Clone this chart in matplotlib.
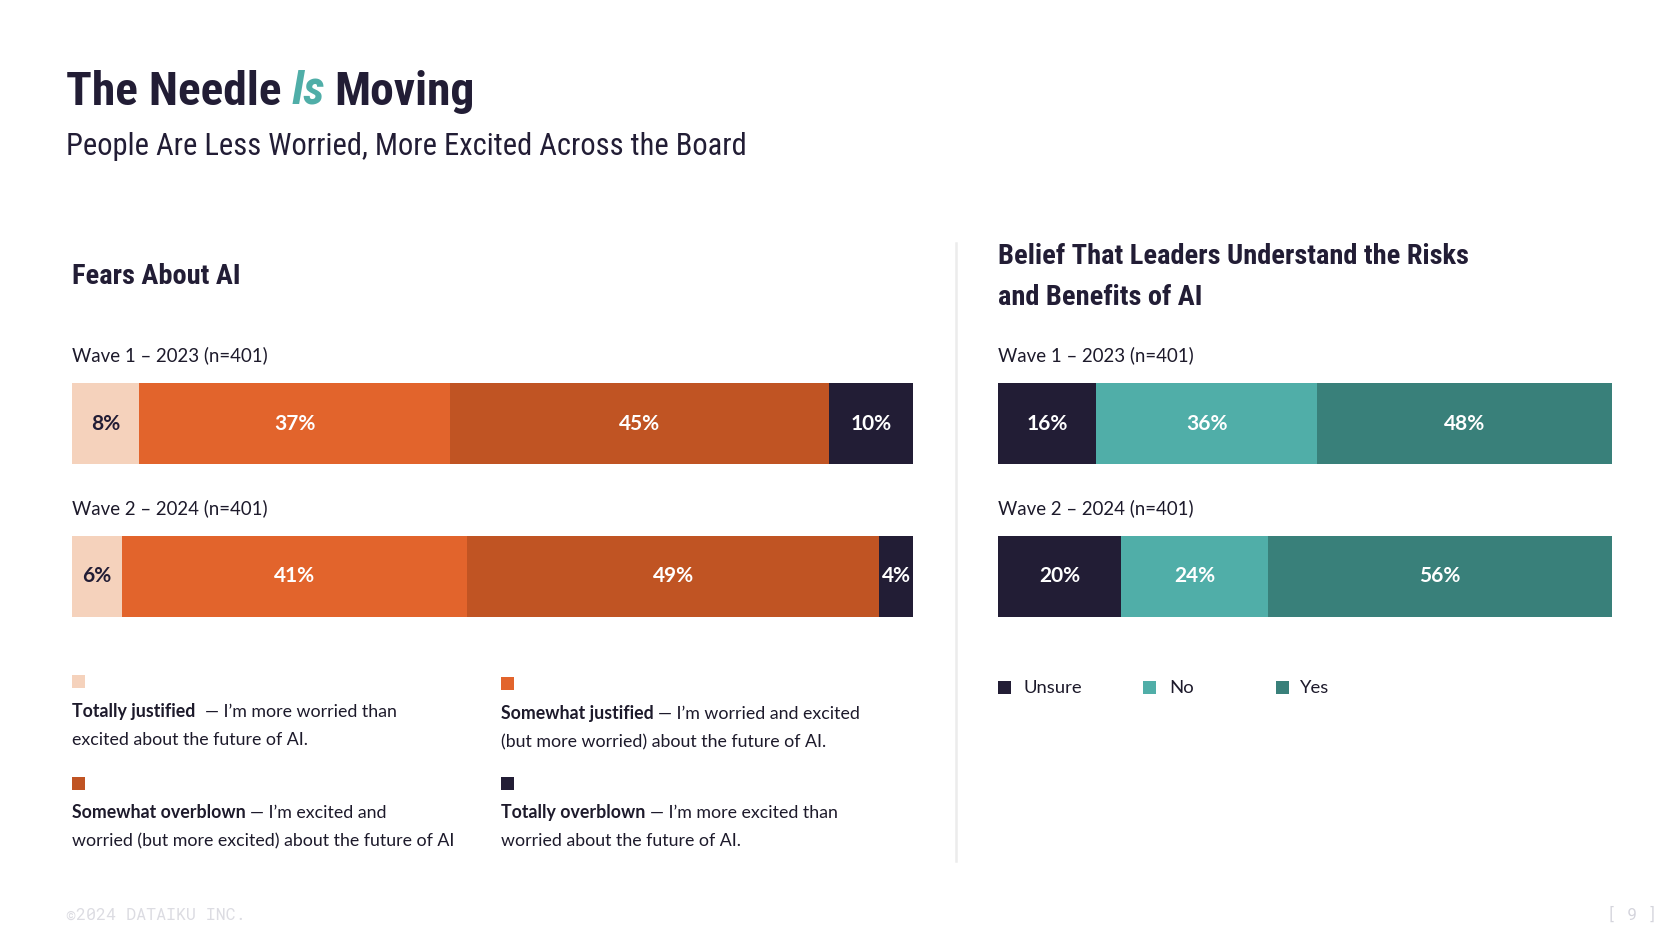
import matplotlib
matplotlib.use("Agg")
import matplotlib.pyplot as plt
from matplotlib import font_manager as fm
from matplotlib.patches import Rectangle

# ---- data ----
fear_cats = ["Totally justified", "Somewhat justified", "Somewhat overblown", "Totally overblown"]
fear_desc = [
    ("\u2014 I\u2019m more worried than", "excited about the future of AI."),
    ("\u2014 I\u2019m worried and excited", "(but more worried) about the future of AI."),
    ("\u2014 I\u2019m excited and", "worried (but more excited) about the future of AI"),
    ("\u2014 I\u2019m more excited than", "worried about the future of AI."),
]
waves = ["Wave 1 \u2013 2023 (n=401)", "Wave 2 \u2013 2024 (n=401)"]
fear_w1 = [8, 37, 45, 10]
fear_w2 = [6, 41, 49, 4]

belief_cats = ["Unsure", "No", "Yes"]
belief_w1 = [16, 36, 48]
belief_w2 = [20, 24, 56]

# ---- style ----
NAVY = "#221d35"
fear_colors = ["#f5d2bc", "#e2642c", "#c05423", NAVY]
fear_text = [NAVY, "white", "white", "white"]
belief_colors = [NAVY, "#50aea8", "#39807a"]
TXT = "#1d1a2b"

avail = {f.name for f in fm.fontManager.ttflist}


def pick(*names):
    for n in names:
        if n in avail:
            return n
    return "DejaVu Sans"


def wnum(w):
    return w if isinstance(w, (int, float)) else fm.weight_dict.get(w, 400)


def static_file(f):
    fn = f.fname
    return not any(s in fn for s in ("VF", "Variable", "[", "wght"))


def body_font(weight, size):
    # concrete static file; variable Source Sans defaults to its thin master
    for name in ("Source Sans 3", "Source Sans Pro", "Lato"):
        c = [f for f in fm.fontManager.ttflist
             if f.name == name and f.style == "normal" and static_file(f)]
        if c:
            best = min(c, key=lambda f: abs(wnum(f.weight) - weight))
            return fm.FontProperties(fname=best.fname, size=size)
    return fm.FontProperties(family="DejaVu Sans", weight=weight, size=size)


HEAD = pick("Roboto Condensed", "Roboto")
MONO = pick("Roboto Mono", "DejaVu Sans Mono")

W, H = 1674, 940
fig = plt.figure(figsize=(W / 100, H / 100), dpi=100)

# background axes in pixel coordinates (y down)
bg = fig.add_axes([0, 0, 1, 1])
bg.set_xlim(0, W)
bg.set_ylim(H, 0)
bg.axis("off")

# ---- headline ----
TS = 34.2
t1 = bg.text(66, 105, "The Needle", family=HEAD, weight="bold", fontsize=TS,
             color=NAVY, va="baseline")
t2 = bg.annotate("Is", xy=(1, 0), xycoords=t1, xytext=(7, 0), textcoords="offset points",
                 family=HEAD, weight="bold", style="italic", fontsize=TS,
                 color="#50aea8", va="bottom")
bg.annotate("Moving", xy=(1, 0), xycoords=t2, xytext=(7, 0), textcoords="offset points",
            family=HEAD, weight="bold", fontsize=TS, color=NAVY, va="bottom")
bg.text(66, 155, "People Are Less Worried, More Excited Across the Board", family=HEAD,
        fontsize=22.0, color=NAVY, va="baseline")

# section titles
bg.text(72, 284, "Fears About AI", family=HEAD, weight="bold", fontsize=20.4, color=NAVY,
        va="baseline")
bg.text(998, 264, "Belief That Leaders Understand the Risks", family=HEAD, weight="bold",
        fontsize=20.4, color=NAVY, va="baseline")
bg.text(998, 305, "and Benefits of AI", family=HEAD, weight="bold", fontsize=20.4,
        color=NAVY, va="baseline")

# wave labels
fp_wave = body_font(400, 13.4)
for x0 in (72, 998):
    for w, yb in zip(waves, (361, 514)):
        bg.text(x0, yb, w, fontproperties=fp_wave, color=TXT, va="baseline")

# divider
bg.plot([956, 956], [243, 861], color="#ececec", lw=1.8)


# ---- bars ----
def bar_axes(x0, x1, top=383, bottom=617):
    return fig.add_axes([x0 / W, 1 - bottom / H, (x1 - x0) / W, (bottom - top) / H])


h = 81 / 153
fp_bar = body_font(700, 15)


def stacked(ax, rows, colors, tcolors):
    n = len(rows[0])
    for i in range(n):
        vals = [r[i] for r in rows]
        lefts = [sum(r[:i]) for r in rows]
        bc = ax.barh(range(len(rows)), vals, left=lefts, height=h, color=colors[i],
                     edgecolor="none")
        ax.bar_label(bc, labels=[f"{v}%" for v in vals], label_type="center",
                     color=tcolors[i], fontproperties=fp_bar)
    ax.set_xlim(0, 100)
    ax.set_ylim(len(rows) - 1 + h / 2, -h / 2)
    ax.axis("off")


axl = bar_axes(72, 913)
stacked(axl, [fear_w1, fear_w2], fear_colors, fear_text)
axr = bar_axes(998, 1612)
stacked(axr, [belief_w1, belief_w2], belief_colors, ["white"] * 3)

# ---- left legend ----
fp_lb = body_font(700, 12.8)
fp_lr = body_font(400, 12.8)
leg_pos = [(72, 675, 717), (501, 677, 719), (72, 777, 818), (501, 777, 818)]
for (x, sy, yb), cat, (d1, d2), c in zip(leg_pos, fear_cats, fear_desc, fear_colors):
    bg.add_patch(Rectangle((x, sy), 13, 13, color=c, lw=0))
    tb = bg.text(x, yb, cat, fontproperties=fp_lb, color=TXT, va="baseline")
    gap = 7 if cat == "Totally justified" else 3
    bg.annotate(d1, xy=(1, 0), xycoords=tb, xytext=(gap, 0), textcoords="offset points",
                fontproperties=fp_lr, color=TXT, va="bottom")
    bg.text(x, yb + 28, d2, fontproperties=fp_lr, color=TXT, va="baseline")

# ---- right legend ----
fp_rl = body_font(400, 13.3)
for cat, c, sx, tx in zip(belief_cats, belief_colors, (998, 1143, 1276), (1024, 1169, 1300)):
    bg.add_patch(Rectangle((sx, 681), 13, 13, color=c, lw=0))
    bg.text(tx, 688, cat, fontproperties=fp_rl, color=TXT, va="center")

# ---- footer ----
bg.text(66, 915, "\u00a92024 DATAIKU INC.", family=MONO, weight="bold", fontsize=12,
        color="#dcdce2", va="center")
bg.text(1657, 915, "[ 9 ]", family=MONO, fontsize=12, color="#d4d4dc", va="center",
        ha="right")

fig.savefig("out.png", dpi=100)
